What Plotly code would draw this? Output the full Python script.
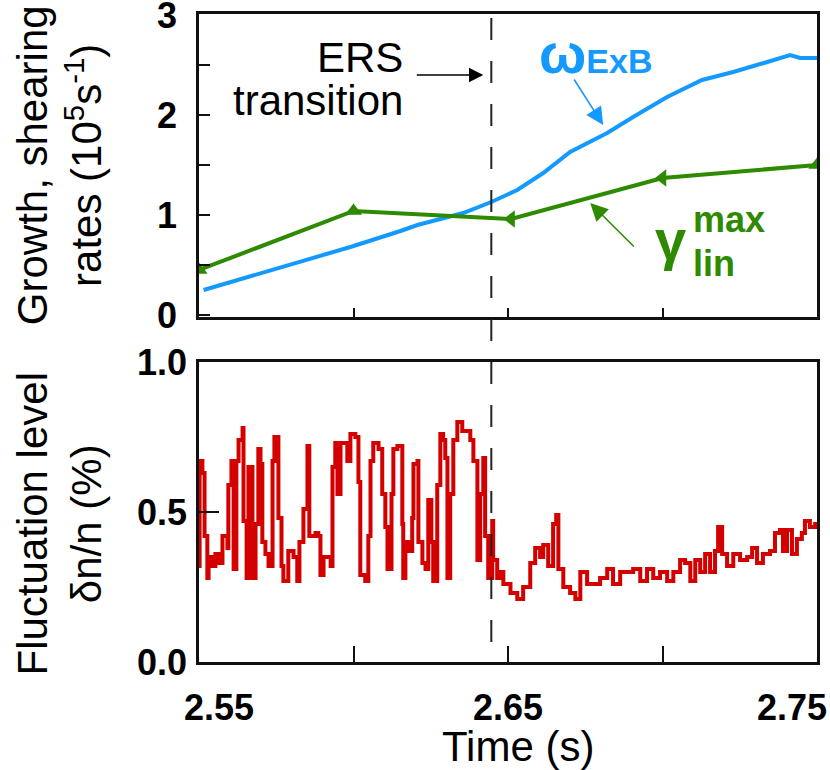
import plotly.graph_objects as go

# ---- data ----
t_exb = [2.5515, 2.5990, 2.6152, 2.6207, 2.6355, 2.6446, 2.6530, 2.6614, 2.6701,
         2.6821, 2.6905, 2.7015, 2.7128, 2.7229, 2.7339, 2.7413, 2.7445, 2.7500]
w_exb = [0.25, 0.68, 0.84, 0.90, 1.02, 1.13, 1.25, 1.42, 1.63,
         1.82, 1.98, 2.18, 2.35, 2.43, 2.53, 2.60, 2.57, 2.57]

t_lin = [2.550, 2.600, 2.651, 2.700, 2.750]
g_lin = [0.45, 1.04, 0.96, 1.37, 1.50]

t_dn = [2.5500, 2.5502, 2.5511, 2.5518, 2.5527, 2.5531, 2.5544, 2.5553, 2.5563, 2.5576,
        2.5592, 2.5595, 2.5605, 2.5612, 2.5621, 2.5628, 2.5641, 2.5644, 2.5654, 2.5660,
        2.5673, 2.5683, 2.5692, 2.5699, 2.5705, 2.5715, 2.5725, 2.5738, 2.5744, 2.5757,
        2.5767, 2.5773, 2.5789, 2.5806, 2.5818, 2.5825, 2.5838, 2.5851, 2.5857, 2.5867,
        2.5877, 2.5886, 2.5893, 2.5903, 2.5916, 2.5926, 2.5932, 2.5941, 2.5948, 2.5958,
        2.5971, 2.5980, 2.5990, 2.6006, 2.6016, 2.6022, 2.6038, 2.6048, 2.6055, 2.6064,
        2.6081, 2.6093, 2.6103, 2.6110, 2.6123, 2.6129, 2.6142, 2.6152, 2.6158, 2.6161,
        2.6168, 2.6177, 2.6190, 2.6194, 2.6207, 2.6210, 2.6223, 2.6233, 2.6242, 2.6252,
        2.6258, 2.6271, 2.6281, 2.6290, 2.6297, 2.6304, 2.6313, 2.6323, 2.6336, 2.6352,
        2.6368, 2.6378, 2.6388, 2.6401, 2.6410, 2.6420, 2.6426, 2.6436, 2.6449, 2.6452,
        2.6465, 2.6475, 2.6485, 2.6508, 2.6530, 2.6549, 2.6572, 2.6588, 2.6604, 2.6614,
        2.6630, 2.6646, 2.6656, 2.6663, 2.6679, 2.6701, 2.6718, 2.6734, 2.6756, 2.6776,
        2.6798, 2.6821, 2.6840, 2.6863, 2.6886, 2.6905, 2.6928, 2.6950, 2.6970, 2.6992,
        2.7015, 2.7035, 2.7057, 2.7073, 2.7090, 2.7106, 2.7122, 2.7138, 2.7154, 2.7170,
        2.7180, 2.7193, 2.7209, 2.7229, 2.7251, 2.7274, 2.7290, 2.7306, 2.7325, 2.7348,
        2.7364, 2.7380, 2.7390, 2.7403, 2.7419, 2.7435, 2.7451, 2.7461, 2.7477, 2.7494,
        2.7500]
dn_n = [0.32, 0.67, 0.63, 0.42, 0.28, 0.35, 0.32, 0.36, 0.33, 0.42,
        0.38, 0.59, 0.67, 0.31, 0.67, 0.74, 0.78, 0.47, 0.28, 0.65,
        0.28, 0.46, 0.71, 0.66, 0.40, 0.36, 0.32, 0.67, 0.75, 0.48,
        0.32, 0.27, 0.37, 0.35, 0.27, 0.40, 0.51, 0.72, 0.42, 0.42,
        0.43, 0.42, 0.29, 0.35, 0.35, 0.32, 0.65, 0.73, 0.56, 0.73,
        0.73, 0.67, 0.76, 0.75, 0.60, 0.29, 0.27, 0.42, 0.67, 0.73,
        0.71, 0.56, 0.45, 0.31, 0.56, 0.71, 0.72, 0.72, 0.46, 0.28,
        0.40, 0.37, 0.48, 0.66, 0.67, 0.40, 0.33, 0.31, 0.54, 0.40,
        0.27, 0.59, 0.76, 0.74, 0.68, 0.28, 0.56, 0.74, 0.80, 0.77,
        0.77, 0.74, 0.67, 0.34, 0.56, 0.68, 0.42, 0.28, 0.47, 0.34,
        0.28, 0.30, 0.26, 0.23, 0.21, 0.25, 0.33, 0.38, 0.35, 0.39,
        0.32, 0.46, 0.49, 0.31, 0.25, 0.23, 0.21, 0.30, 0.26, 0.26,
        0.28, 0.31, 0.26, 0.30, 0.30, 0.31, 0.27, 0.31, 0.28, 0.30,
        0.27, 0.30, 0.34, 0.33, 0.27, 0.34, 0.30, 0.36, 0.30, 0.37,
        0.45, 0.36, 0.32, 0.36, 0.34, 0.35, 0.38, 0.33, 0.36, 0.37,
        0.43, 0.44, 0.37, 0.44, 0.36, 0.41, 0.43, 0.47, 0.45, 0.46,
        0.46]

t_ers = 2.6446
x_ticks = [2.55, 2.60, 2.65, 2.70, 2.75]
NB = "\u00a0"
x_ticktext = [NB * 4 + "2.55", "", "2.65", "", "2.75" + NB * 5]
top_yticks = [0, 0.5, 1, 1.5, 2, 2.5, 3]
top_yticktext = ["0", "", "1", "", "2", "", "3"]
bot_yticks = [0, 0.5, 1.0]
bot_yticktext = ["0.0", "0.5", "1.0"]

BLUE = "#1499ff"
GREEN = "#2e8a00"
RED = "#d40000"
FONT = "Liberation Sans, Arial, sans-serif"

fig = go.Figure()
fig.add_trace(go.Scatter(x=t_exb, y=w_exb, mode="lines", line=dict(color=BLUE, width=4),
                         xaxis="x", yaxis="y", showlegend=False))
fig.add_trace(go.Scatter(x=t_lin, y=g_lin, mode="lines+markers",
                         line=dict(color=GREEN, width=4),
                         marker=dict(color=GREEN, size=15,
                                     symbol=["triangle-up", "triangle-up", "triangle-left",
                                             "triangle-left", "triangle-up"]),
                         xaxis="x", yaxis="y", showlegend=False))
fig.add_trace(go.Scatter(x=t_dn, y=dn_n, mode="lines", line=dict(color=RED, width=4, shape="hv"),
                         xaxis="x2", yaxis="y2", showlegend=False))

axis_common = dict(showline=True, linewidth=2.5, linecolor="#111", mirror=True,
                   showgrid=False, zeroline=False, ticks="inside", tickcolor="#111",
                   tickwidth=2, automargin=False)
tickfont = dict(family=FONT, size=36, color="black", weight="bold")

fig.update_layout(
    width=830, height=770,
    margin=dict(l=199, r=13, t=14, b=108),
    paper_bgcolor="white", plot_bgcolor="white",
    xaxis=dict(domain=[0, 1], anchor="y", range=[2.55, 2.75], tickvals=x_ticks,
               showticklabels=False, ticklen=9, **axis_common),
    yaxis=dict(domain=[0.5324, 1], anchor="x", range=[-0.02, 3.01], tickvals=top_yticks,
               ticktext=top_yticktext, ticklen=11, tickfont=tickfont,
               ticklabelstandoff=12, ticklabeloverflow="allow", **axis_common),
    xaxis2=dict(domain=[0, 1], anchor="y2", range=[2.55, 2.75], tickvals=x_ticks,
                ticktext=x_ticktext, ticklen=16, tickfont=tickfont,
                ticklabelstandoff=12, ticklabeloverflow="allow", **axis_common),
    yaxis2=dict(domain=[0, 0.46296], anchor="x2", range=[0, 1.0], tickvals=bot_yticks,
                ticktext=bot_yticktext, ticklen=20, tickfont=tickfont,
                ticklabelstandoff=2, ticklabeloverflow="allow", **axis_common),
)

# ERS transition dashed line through both panels
fig.add_shape(type="line", xref="x", yref="paper", x0=t_ers, x1=t_ers, y0=0.994, y1=0,
              line=dict(color="#222", width=2, dash="22px,21px"))

ann = []
tfont = dict(family=FONT, size=42, color="black")
ann.append(dict(text="ERS", x=2.6168, y=2.58, xref="x", yref="y", xanchor="right",
                yanchor="middle", showarrow=False, font=tfont))
ann.append(dict(text="transition", x=2.6168, y=2.15, xref="x", yref="y", xanchor="right",
                yanchor="middle", showarrow=False, font=tfont))
# ERS arrow
ann.append(dict(text="", x=2.6420, y=2.40, ax=2.6200, ay=2.40, xref="x", yref="y",
                axref="x", ayref="y", showarrow=True, arrowhead=2, arrowsize=2.2,
                arrowwidth=1.3, arrowcolor="black"))
# omega ExB label + arrow
ann.append(dict(text="<b>ω<span style='font-size:34px'>ExB</span></b>", x=2.6595, y=2.62,
                xref="x", yref="y", xanchor="left", yanchor="middle", showarrow=False,
                font=dict(family=FONT, size=56, color=BLUE)))
ann.append(dict(text="", x=2.6808, y=1.90, ax=2.6711, ay=2.37, xref="x", yref="y",
                axref="x", ayref="y", showarrow=True, arrowhead=2, arrowsize=2.2,
                arrowwidth=1.6, arrowcolor=BLUE))
# gamma label + arrow
ann.append(dict(text="<b>γ</b>", x=2.6968, y=0.76, xref="x", yref="y", xanchor="left",
                yanchor="middle", showarrow=False, font=dict(family=FONT, size=56, color=GREEN)))
ann.append(dict(text="<b>max</b>", x=2.7092, y=0.96, xref="x", yref="y", xanchor="left",
                yanchor="middle", showarrow=False, font=dict(family=FONT, size=36, color=GREEN)))
ann.append(dict(text="<b>lin</b>", x=2.7092, y=0.52, xref="x", yref="y", xanchor="left",
                yanchor="middle", showarrow=False, font=dict(family=FONT, size=36, color=GREEN)))
ann.append(dict(text="", x=2.6766, y=1.12, ax=2.6912, ay=0.67, xref="x", yref="y",
                axref="x", ayref="y", showarrow=True, arrowhead=2, arrowsize=2.2,
                arrowwidth=1.6, arrowcolor=GREEN))
# axis titles
ann.append(dict(text="Growth, shearing<br>rates (10<sup>5</sup>s<sup>-1</sup>)", x=-0.2257,
                y=0.7659, xref="paper", yref="paper", xanchor="center", yanchor="middle",
                textangle=-90, showarrow=False, font=tfont))
ann.append(dict(text="Fluctuation level<br>δn/n (%)", x=-0.2257, y=0.2130, xref="paper",
                yref="paper", xanchor="center", yanchor="middle", textangle=-90,
                showarrow=False, font=tfont))
ann.append(dict(text="Time (s)", x=0.516, y=-0.1310, xref="paper", yref="paper",
                xanchor="center", yanchor="middle", showarrow=False, font=tfont))
fig.update_layout(annotations=ann)

fig.write_html("out.html")
